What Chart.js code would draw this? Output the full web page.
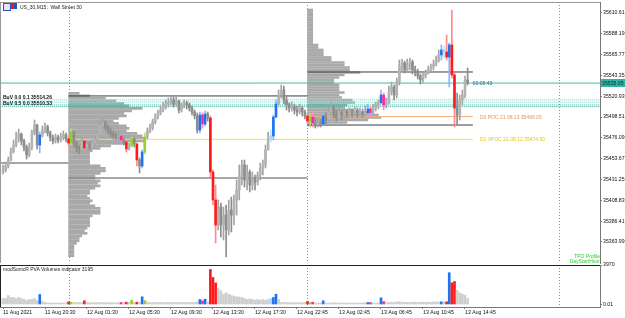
<!DOCTYPE html>
<html>
<head>
<meta charset="utf-8">
<script src="https://cdn.jsdelivr.net/npm/chart.js@4.4.1/dist/chart.umd.min.js"></script>
<style>
  html, body { margin: 0; padding: 0; background: #fff; }
  #wrap { position: relative; width: 625px; height: 318px; overflow: hidden; font-family: "Liberation Sans", Arial, sans-serif; }
  canvas { position: absolute; left: 0; }
  .lbl { position: absolute; font-size: 5px; line-height: 6px; white-space: nowrap; }
  .ico { position: absolute; top: 3px; width: 6px; height: 6px; }
</style>
</head>
<body>
<div id="wrap">
  <canvas id="price" width="625" height="264" style="top:0"></canvas>
  <canvas id="vol" width="625" height="60" style="top:258px"></canvas>

  <div class="ico" style="left:3px;border:1px solid #3050c0;background:#dfe6ff"></div>
  <div class="ico" style="left:11px;background:linear-gradient(90deg,#e02020 50%,#2050d0 50%)"></div>
  <div class="lbl" style="left:20px;top:4px;color:#222">US_30,M15:&nbsp; Wall Street 30</div>

  <div class="lbl" id="buv1" style="color:#111;font-weight:bold">BuV 0.0 0.1 35514.26</div>
  <div class="lbl" id="buv2" style="color:#111;font-weight:bold">BuV 0.5 0.0 35510.33</div>
  <div class="lbl" id="clock" style="color:#2f6b8a">00:05:43</div>
  <div class="lbl" id="pocLbl" style="color:#e0965a">D0 POC 21.08.13 35499.05</div>
  <div class="lbl" id="vpocLbl" style="color:#e6c21e">D1 VPOC 21.08.12 35474.50</div>
  <div class="lbl" style="right:25px;top:253px;color:#2ecc2e;text-align:right">TPO Profile</div>
  <div class="lbl" style="right:25px;top:258px;color:#2ecc2e;text-align:right">DayStartHour</div>
  <div class="lbl" style="left:3px;top:266px;color:#222">modSonicR PVA Volumes indicator 3195</div>
</div>

<script>
const FONT = '"Liberation Sans", Arial, sans-serif';

// M15 candles, one value per bar (bar 0 = 11 Aug 16:30)
const firstOpen = 35439.3;
const closes = [
  35441.5,35445.8,35452.2,35460.9,35468.4,35475.9,35480.2,35472.7,35466.2,35457.6,
  35465.2,35481.3,35489.9,35468.4,35479.2,35484.5,35487.8,35481.3,35475.9,35472.7,
  35477.0,35473.8,35475.9,35479.2,35474.9,35470.5,35482.4,35470.5,35465.2,35463.0,
  35472.7,35465.2,35469.5,35466.2,35470.5,35473.8,35480.2,35488.9,35492.1,35487.8,
  35483.5,35480.2,35478.1,35477.0,35478.1,35473.8,35471.6,35464.1,35467.3,35474.9,
  35469.5,35452.2,35445.8,35460.9,35477.0,35483.5,35486.7,35493.2,35498.5,35502.9,
  35506.1,35510.4,35512.5,35514.7,35516.8,35512.5,35515.8,35506.1,35510.4,35513.6,
  35511.5,35508.2,35503.9,35499.6,35484.5,35500.7,35491.0,35501.8,35497.5,35439.3,
  35409.2,35382.3,35401.6,35382.3,35393.0,35376.9,35398.4,35393.0,35409.2,35420.0,
  35436.1,35446.9,35430.7,35439.3,35425.3,35432.9,35428.6,35436.1,35443.6,35446.9,
  35463.0,35473.8,35478.1,35498.5,35512.5,35522.2,35527.6,35516.8,35511.5,35508.2,
  35510.4,35506.1,35503.9,35508.2,35503.9,35499.6,35494.2,35498.5,35492.1,35489.9,
  35492.1,35491.0,35499.6,35495.3,35503.9,35508.2,35501.8,35497.5,35503.9,35500.7,
  35503.9,35501.8,35505.0,35502.9,35506.1,35502.9,35503.9,35501.8,35502.9,35507.2,
  35502.9,35508.2,35510.4,35513.6,35522.2,35511.5,35513.6,35525.5,35530.8,35522.2,
  35536.2,35553.4,35556.7,35549.2,35555.6,35557.7,35549.2,35547.0,35542.7,35538.4,
  35542.7,35547.0,35549.2,35552.4,35555.6,35559.9,35565.3,35570.7,35568.5,35563.1,
  35576.1,35543.8,35508.2,35500.7,35516.8,35522.2,35538.4,35535.05
];
const highs = [
  35446.9,35450.1,35455.5,35465.2,35473.8,35482.4,35485.6,35481.3,35474.9,35468.4,
  35470.5,35484.5,35495.3,35491.0,35482.4,35488.9,35492.1,35489.9,35483.5,35479.2,
  35480.2,35479.2,35481.3,35483.5,35481.3,35477.0,35485.6,35483.5,35472.7,35468.4,
  35475.9,35473.8,35472.7,35471.6,35473.8,35477.0,35484.5,35493.2,35496.4,35494.2,
  35489.9,35486.7,35483.5,35481.3,35481.3,35479.2,35475.9,35472.7,35470.5,35477.0,
  35475.9,35470.5,35454.4,35463.0,35481.3,35486.7,35491.0,35496.4,35501.8,35506.1,
  35510.4,35514.7,35516.8,35519.0,35521.2,35520.1,35520.1,35516.8,35513.6,35516.8,
  35515.8,35513.6,35510.4,35506.1,35502.9,35503.9,35502.9,35505.0,35503.9,35499.6,
  35441.5,35425.3,35409.2,35405.9,35401.6,35403.8,35409.2,35412.4,35414.6,35430.7,
  35446.9,35452.2,35452.2,35446.9,35441.5,35439.3,35436.1,35439.3,35449.0,35452.2,
  35468.4,35482.4,35484.5,35500.7,35516.8,35527.6,35533.0,35531.9,35520.1,35513.6,
  35514.7,35512.5,35510.4,35512.5,35510.4,35506.1,35500.7,35501.8,35503.9,35497.5,
  35497.5,35496.4,35501.8,35502.9,35508.2,35513.6,35510.4,35506.1,35508.2,35506.1,
  35508.2,35506.1,35508.2,35507.2,35509.3,35508.2,35508.2,35507.2,35510.4,35512.5,
  35509.3,35512.5,35514.7,35516.8,35527.6,35524.4,35519.0,35531.9,35536.2,35533.0,
  35540.5,35559.9,35561.0,35558.8,35561.0,35562.1,35559.9,35553.4,35550.2,35544.8,
  35547.0,35549.2,35553.4,35555.6,35559.9,35564.2,35570.7,35576.1,35575.0,35586.8,
  35578.2,35613.7,35545.9,35524.4,35522.2,35527.6,35542.7,35551.3
];
const lows = [
  35437.2,35439.3,35443.6,35451.2,35459.8,35466.2,35471.6,35468.4,35461.9,35453.3,
  35455.5,35463.0,35479.2,35464.1,35459.8,35477.0,35481.3,35478.1,35472.7,35469.5,
  35470.5,35470.5,35471.6,35473.8,35471.6,35467.3,35468.4,35466.2,35460.9,35458.7,
  35461.9,35464.1,35463.0,35463.0,35465.2,35467.3,35471.6,35478.1,35485.6,35484.5,
  35480.2,35477.0,35474.9,35473.8,35473.8,35471.6,35468.4,35460.9,35463.0,35466.2,
  35466.2,35445.8,35438.3,35443.6,35458.7,35474.9,35481.3,35484.5,35491.0,35496.4,
  35500.7,35503.9,35507.2,35509.3,35511.5,35509.3,35510.4,35502.9,35503.9,35508.2,
  35507.2,35505.0,35500.7,35496.4,35481.3,35481.3,35486.7,35488.9,35494.2,35434.0,
  35403.8,35362.9,35376.9,35369.3,35366.1,35347.8,35371.5,35374.7,35382.3,35393.0,
  35409.2,35425.3,35423.2,35420.0,35417.8,35420.0,35420.0,35425.3,35430.7,35436.1,
  35443.6,35463.0,35471.6,35473.8,35497.5,35511.5,35519.0,35512.5,35506.1,35503.9,
  35505.0,35501.8,35499.6,35501.8,35499.6,35496.4,35491.0,35487.8,35487.8,35486.7,
  35487.8,35487.8,35491.0,35491.0,35493.2,35500.7,35497.5,35494.2,35495.3,35495.3,
  35497.5,35497.5,35499.6,35498.5,35499.6,35498.5,35499.6,35498.5,35499.6,35499.6,
  35499.6,35501.8,35505.0,35507.2,35513.6,35506.1,35508.2,35512.5,35522.2,35516.8,
  35519.0,35533.0,35547.0,35545.9,35547.0,35549.2,35544.8,35542.7,35539.4,35534.1,
  35536.2,35540.5,35544.8,35547.0,35549.2,35553.4,35557.7,35559.9,35562.1,35559.9,
  35530.8,35540.5,35487.8,35489.9,35495.3,35511.5,35519.0,35533.0
];
const volumes = [
  603,612,905,704,698,601,710,598,503,402,
  497,505,604,402,1005,302,201,151,148,152,
  150,149,151,147,152,271,221,201,199,203,
  198,372,201,181,180,182,200,199,181,180,
  182,179,181,180,183,201,199,231,200,432,
  202,231,198,774,402,251,201,199,203,200,
  221,201,199,202,200,198,221,200,199,201,
  202,221,199,201,251,503,372,533,251,3518,
  2714,2171,1608,1367,1035,1166,1035,905,834,764,
  764,704,603,503,553,503,432,503,432,503,
  432,503,603,704,1035,503,201,199,202,181,
  180,182,181,180,179,201,302,201,231,151,
  150,152,372,151,149,150,181,180,151,150,
  152,149,151,150,148,151,150,152,181,201,
  200,151,150,149,673,302,201,199,221,200,
  251,271,251,221,219,201,221,251,222,220,
  251,221,249,222,251,271,250,271,272,270,
  3195,2181,2312,1437,1176,1035,935,603
];

// PVA bar classes (bar indexes)
const climaxBear = [25, 31, 47, 51, 79, 80, 81, 116, 169, 171, 172];
const climaxBull = [14, 53, 75, 77, 103, 104, 122, 139, 144, 167, 170];
const risingBull = [26, 49, 54, 117];
const risingBear = [45, 76, 118, 140, 145];
const weakBull   = [102, 168];

// axis text
const priceTicks = [35610.61, 35588.19, 35565.77, 35543.35, 35520.93, 35498.51,
                    35476.09, 35453.67, 35431.25, 35408.83, 35386.41, 35363.99];
const timeTickBars = [0, 16, 32, 48, 64, 80, 96, 112, 128, 144, 160, 176];
const timeLabels = ['11 Aug 2021', '11 Aug 20:30', '12 Aug 01:30', '12 Aug 05:30', '12 Aug 09:30',
                    '12 Aug 13:30', '12 Aug 17:30', '12 Aug 22:45', '13 Aug 02:45', '13 Aug 06:45',
                    '13 Aug 10:45', '13 Aug 14:45'];
const daySepBars = [25, 116, 212];
const volTop = 3970;

// TPO profiles (counts per 2.69 pt row, top row first)
const tpoStep = 2.69;
const prof1Start = 25, prof1Top = 35524.0;
const prof1Counts = [4,8,14,18,21,23,28,24,21,22, 19,17,19,22,23,22,26,28,29,29,
                     22,16,12,9,8,8,8,8,8,12, 14,14,12,10,10,12,11,12,10,8,
                     8,7,8,9,8,10,12,12,12,9, 8,8,8,8,7,6,7,5,4,4, 3,2,2,2,2,2];
const prof2Start = 116, prof2Top = 35613.7;
const prof2Counts = [2,2,2,2,2,2,2,2,2,2, 2,2,2,2,4,4,6,6,6,9, 9,14,14,16,16,20,14,12,10,10,
                     12,12,12,14,12,13,17,18,15,14, 18,23,27,28,23,15,5];

// horizontal levels
const bidPrice = 35535.05, pocPrice = 35499.05, vpocPrice = 35474.50;
const levelPrices = [bidPrice, 35521.2, 35432.9, 35449.0, 35547.0, 35489.9, pocPrice, vpocPrice,
                     35517.6, 35515.8, 35514.0, 35511.5, 35509.7];
const levelFrom   = [-2, 25, 25, -2, 116, 116, 116, 25, -2, -2, -2, -2, -2];
const levelTo     = [230, 116, 116, 25, 179, 179, 179, 179, 230, 230, 230, 230, 230];
const levelKind   = ['bid', 'edge', 'low', 'low', 'edge', 'edge', 'poc', 'vpoc',
                     'buvA', 'buvA', 'buvA', 'buvB', 'buvB'];

const levelStyle = {
  bid:  { color: '#3dbdae', width: 1 },
  edge: { color: '#3a3a3a', width: 1 },
  low:  { color: '#8a8a8a', width: 1.6 },
  poc:  { color: '#f2b17d', width: 1 },
  vpoc: { color: '#f5e04a', width: 1 },
  buvA: { color: '#9ad9cf', width: 1, dash: [1, 1] },
  buvB: { color: '#33a697', width: 1, dash: [1, 1] }
};

const opens = closes.map((c, i) => i === 0 ? firstOpen : closes[i - 1]);
const kindOf = i =>
  climaxBear.includes(i) ? 'R' : climaxBull.includes(i) ? 'B' :
  risingBull.includes(i) ? 'G' : risingBear.includes(i) ? 'M' :
  weakBull.includes(i) ? 'L' : (closes[i] >= opens[i] ? 'up' : 'dn');
const bodyCol = { R: '#ff1a1a', B: '#1e74f0', G: '#9acd32', M: '#ff2a9a', L: '#a8d4ff', up: '#b3b3b3', dn: '#8d8d8d' };
const wickCol = { R: '#ff8a8a', B: '#86b6ff', G: '#b9dc73', M: '#ff8cc6', L: '#c7e4ff', up: '#a4a4a4', dn: '#8d8d8d' };
const volCol  = { R: '#ff1a1a', B: '#1e74f0', G: '#9acd32', M: '#ff2a9a', L: '#a8d4ff', up: '#cfcfcf', dn: '#cfcfcf' };
const kinds = closes.map((c, i) => kindOf(i));

const xMin = -1.143, xMax = 227.43;

// axes keep a fixed size and no label overhang, like the terminal window
const fixWidth = s => { s.width = 25; s.paddingTop = 0; s.paddingBottom = 0; };

const daySeps = {
  id: 'daySeps',
  beforeDatasetsDraw(chart) {
    const { ctx, chartArea: a, scales: { x } } = chart;
    ctx.save();
    ctx.strokeStyle = '#8a8a8a';
    ctx.lineWidth = 1;
    ctx.setLineDash([1, 2]);
    daySepBars.forEach(b => {
      const px = Math.round(x.getPixelForValue(b)) + 0.5;
      ctx.beginPath(); ctx.moveTo(px, a.top); ctx.lineTo(px, a.bottom); ctx.stroke();
    });
    ctx.restore();
  }
};

const frame = {
  id: 'frame',
  afterDraw(chart, args, opts) {
    const { ctx, chartArea: a } = chart;
    ctx.save();
    ctx.strokeStyle = opts.color;
    ctx.lineWidth = 1;
    ctx.beginPath();
    ctx.moveTo(0, a.top + 0.5); ctx.lineTo(a.right, a.top + 0.5);
    ctx.moveTo(0.5, a.top); ctx.lineTo(0.5, a.bottom);
    ctx.stroke();
    ctx.restore();
  }
};

const bidBox = {
  id: 'bidBox',
  afterDraw(chart) {
    const { ctx, chartArea: a, scales: { y } } = chart;
    const py = Math.round(y.getPixelForValue(bidPrice));
    ctx.save();
    ctx.fillStyle = '#2fb5a6';
    ctx.fillRect(a.right + 1, py - 4, 24, 8);
    ctx.fillStyle = '#0a2a26';
    ctx.font = '5.2px ' + FONT;
    ctx.textBaseline = 'middle';
    ctx.fillText(bidPrice.toFixed(2), a.right + 2, py + 0.5);
    ctx.restore();
  }
};

function profile(start, top, counts) {
  return {
    type: 'bar',
    indexAxis: 'y',
    data: counts.map((c, k) => ({ y: top - k * tpoStep, x: [start, start + c] })),
    backgroundColor: '#a9a9a9',
    barThickness: 2,
    grouped: false,
    order: 10
  };
}

const levelSets = levelPrices.map((p, k) => {
  const st = levelStyle[levelKind[k]];
  return {
    type: 'line',
    data: [{ x: levelFrom[k], y: p }, { x: levelTo[k], y: p }],
    borderColor: st.color,
    borderWidth: st.width,
    borderDash: st.dash || [],
    pointRadius: 0,
    order: 5
  };
});

const priceChart = new Chart(document.getElementById('price'), {
  type: 'bar',
  data: {
    datasets: [
      profile(prof1Start, prof1Top, prof1Counts),
      profile(prof2Start, prof2Top, prof2Counts),
      ...levelSets,
      {
        type: 'bar',
        data: closes.map((c, i) => ({ x: i, y: [lows[i], highs[i]] })),
        backgroundColor: kinds.map(k => wickCol[k]),
        barThickness: 1,
        grouped: false,
        order: 2
      },
      {
        type: 'bar',
        data: closes.map((c, i) => ({ x: i, y: [opens[i], c] })),
        backgroundColor: kinds.map(k => bodyCol[k]),
        barThickness: 2,
        minBarLength: 1,
        grouped: false,
        order: 1
      }
    ]
  },
  options: {
    responsive: false,
    animation: false,
    events: [],
    devicePixelRatio: 1,
    layout: { padding: { top: 2, bottom: 1, left: 0, right: 0 } },
    plugins: { legend: { display: false }, tooltip: { enabled: false }, frame: { color: '#9a9a9a' } },
    scales: {
      x: { type: 'linear', min: xMin, max: xMax, display: false, offset: false, grid: { offset: false } },
      y: {
        type: 'linear', position: 'right', min: 35341.35, max: 35622.35, beginAtZero: false,
        offset: false,
        afterBuildTicks: s => { s.ticks = priceTicks.map(v => ({ value: v })); },
        afterFit: fixWidth,
        ticks: { autoSkip: false, color: '#111', padding: 1, font: { family: FONT, size: 5.2 }, callback: v => v.toFixed(2) },
        grid: { drawOnChartArea: false, tickLength: 2, color: '#777', offset: false },
        border: { color: '#777' }
      }
    }
  },
  plugins: [daySeps, frame, bidBox]
});

const volChart = new Chart(document.getElementById('vol'), {
  type: 'bar',
  data: {
    datasets: [{
      data: volumes.map((v, i) => ({ x: i, y: v })),
      backgroundColor: kinds.map(k => volCol[k]),
      barThickness: 2,
      grouped: false
    }]
  },
  options: {
    responsive: false,
    animation: false,
    events: [],
    devicePixelRatio: 1,
    layout: { padding: { top: 7, bottom: 0, left: 0, right: 0 } },
    plugins: { legend: { display: false }, tooltip: { enabled: false }, frame: { color: '#222' } },
    scales: {
      x: {
        type: 'linear', min: xMin, max: xMax, offset: false,
        afterBuildTicks: s => { s.ticks = timeTickBars.map(v => ({ value: v })); },
        afterFit: s => { s.height = 11; s.paddingLeft = 0; s.paddingRight = 0; },
        ticks: {
          autoSkip: false, maxRotation: 0, align: 'start', padding: 0, color: '#111',
          font: { family: FONT, size: 5.2 },
          callback: v => timeLabels[timeTickBars.indexOf(v)]
        },
        grid: { drawOnChartArea: false, tickLength: 2, color: '#777', offset: false },
        border: { color: '#777' }
      },
      y: {
        type: 'linear', position: 'right', min: -251, max: volTop, beginAtZero: false, offset: false,
        afterBuildTicks: s => { s.ticks = [{ value: volTop }, { value: 0 }]; },
        afterFit: fixWidth,
        ticks: { autoSkip: false, color: '#111', padding: 1, font: { family: FONT, size: 5.2 },
                 callback: v => v === 0 ? '0.01' : String(v) },
        grid: { drawOnChartArea: false, tickLength: 2, color: '#777' },
        border: { color: '#777' }
      }
    }
  },
  plugins: [daySeps, frame]
});

// text pinned to price levels
function pin(id, bar, price) {
  const el = document.getElementById(id);
  el.style.left = priceChart.scales.x.getPixelForValue(bar) + 'px';
  el.style.top = (priceChart.scales.y.getPixelForValue(price) - 3) + 'px';
}
pin('clock', 179, bidPrice);
pin('pocLbl', 181.7, pocPrice);
pin('vpocLbl', 181.7, vpocPrice);
pin('buv1', 0, 35520.3);
pin('buv2', 0, 35513.3);
</script>
</body>
</html>
